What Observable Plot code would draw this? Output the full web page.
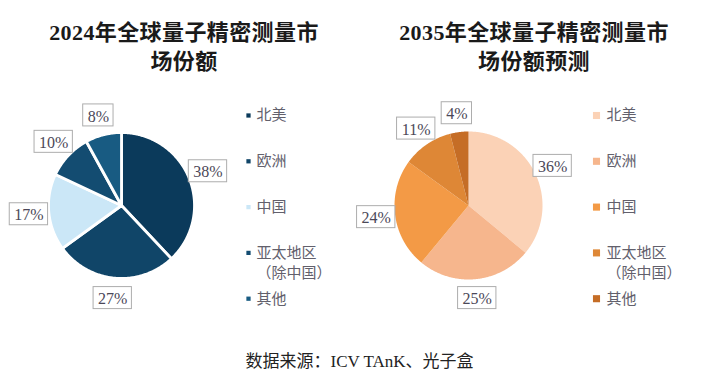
<!DOCTYPE html>
<html>
<head>
<meta charset="utf-8">
<script src="https://cdn.jsdelivr.net/npm/d3@7"></script>
<script src="https://cdn.jsdelivr.net/npm/@observablehq/plot@0.6"></script>
<style>
  body { margin: 0; background: #ffffff; }
  #wrap { position: relative; width: 719px; height: 383px; overflow: hidden; background: #ffffff; }
  .title { position: absolute; top: 18px; width: 320px; text-align: center; font-weight: bold;
           font-size: 22px; line-height: 29px; color: #1a1a1a;
           font-family: "Liberation Serif", "Noto Sans CJK SC", serif; letter-spacing: 0.4px; }
  .caption { position: absolute; top: 351px; left: 0; width: 719px; text-align: center;
             font-size: 17px; line-height: 22px; color: #222;
             font-family: "Liberation Serif", "Noto Sans CJK SC", serif; }
  .panel { position: absolute; top: 90px; }
</style>
</head>
<body>
<div id="wrap">
  <div class="title" id="t1" style="left:24px"></div>
  <div class="title" id="t2" style="left:374px"></div>
  <div class="panel" id="left" style="left:0px"></div>
  <div class="panel" id="right" style="left:360px"></div>
  <div class="caption" id="cap"></div>
</div>
<script>
// ---- data ----
const regions = ["北美", "欧洲", "中国", "亚太地区\n（除中国）", "其他"];
const share2024 = [38, 27, 17, 10, 8];
const share2035 = [36, 25, 24, 11, 4];
const colors2024 = ["#0b3a5b", "#104568", "#cbe7f7", "#134c71", "#185b82"];
const colors2035 = ["#fbd2b6", "#f6b68d", "#f39a46", "#de8736", "#c56d26"];
const title2024 = ["2024年全球量子精密测量市", "场份额"];
const title2035 = ["2035年全球量子精密测量市", "场份额预测"];
const captionText = "数据来源：ICV TAnK、光子盒";

document.getElementById("t1").innerHTML = title2024.join("<br>");
document.getElementById("t2").innerHTML = title2035.join("<br>");
document.getElementById("cap").textContent = captionText;

function pieChart(values, colors, opt) {
  const W = opt.width, H = 240, cx = opt.cx, cy = 115, R = opt.R;
  const arcs = d3.pie().sort(null)(values);
  const pts = [];
  arcs.forEach((a, i) => {
    pts.push({k: i, x: cx, y: cy});
    const n = Math.max(4, Math.ceil((a.endAngle - a.startAngle) / 0.01));
    for (let j = 0; j <= n; j++) {
      const t = a.startAngle + (a.endAngle - a.startAngle) * j / n;
      pts.push({k: i, x: cx + R * Math.sin(t), y: cy - R * Math.cos(t)});
    }
    pts.push({k: i, x: cx, y: cy});
  });
  const fs = 16;
  const labels = arcs.map((a, i) => {
    const m = (a.startAngle + a.endAngle) / 2;
    const text = values[i] + "%";
    const digits = String(values[i]).length;
    const w = (digits * 0.5 + 0.833) * fs + 9;
    const h = 22;
    const x = cx + opt.labelDist * Math.sin(m), y = cy - opt.labelDist * Math.cos(m);
    return {text, x, y, x1: x - w / 2, x2: x + w / 2, y1: y - h / 2, y2: y + h / 2};
  });
  const legendLines = [];
  const legendMarks = [];
  regions.forEach((r, i) => {
    const y = opt.legY0 + i * opt.legStep;
    legendMarks.push({k: i, x: opt.legMarkX, y});
    r.split("\n").forEach((line, j) => {
      legendLines.push({text: line, x: opt.legTextX, y: y + j * 20});
    });
  });
  return Plot.plot({
    width: W, height: H,
    margin: 0,
    style: {background: "transparent", overflow: "visible"},
    x: {domain: [0, W], range: [0, W], axis: null},
    y: {domain: [0, H], range: [0, H], axis: null},
    color: {domain: d3.range(values.length), range: colors},
    marks: [
      Plot.line(pts, {x: "x", y: "y", z: "k", fill: "k", stroke: opt.sliceStroke,
                      strokeWidth: opt.sliceStrokeWidth, strokeLinejoin: "round", curve: "linear"}),
      Plot.rect(labels, {x1: "x1", x2: "x2", y1: "y1", y2: "y2", fill: "white", stroke: "#adadad", strokeWidth: 1}),
      Plot.text(labels, {x: "x", y: "y", text: "text", fill: "#4b4858", fontSize: fs,
                         fontFamily: "Liberation Serif, serif", dy: 1}),
      Plot.dot(legendMarks, {x: "x", y: "y", fill: "k", symbol: "square", r: opt.markR}),
      Plot.text(legendLines, {x: "x", y: "y", text: "text", textAnchor: "start", fill: "#62606c",
                              fontSize: 15, fontFamily: "Noto Sans CJK SC, sans-serif", letterSpacing: 1.5})
    ]
  });
}

document.getElementById("left").appendChild(pieChart(share2024, colors2024, {
  width: 360, cx: 121, R: 73, labelDist: 93, sliceStroke: "white", sliceStrokeWidth: 2.8,
  legY0: 25, legStep: 45.8, legMarkX: 248, legTextX: 256, markR: 2.4
}));
document.getElementById("right").appendChild(pieChart(share2035, colors2035, {
  width: 359, cx: 108, R: 74, labelDist: 93, sliceStroke: "none", sliceStrokeWidth: 0,
  legY0: 25, legStep: 45.8, legMarkX: 236, legTextX: 246, markR: 4
}));
</script>
</body>
</html>
